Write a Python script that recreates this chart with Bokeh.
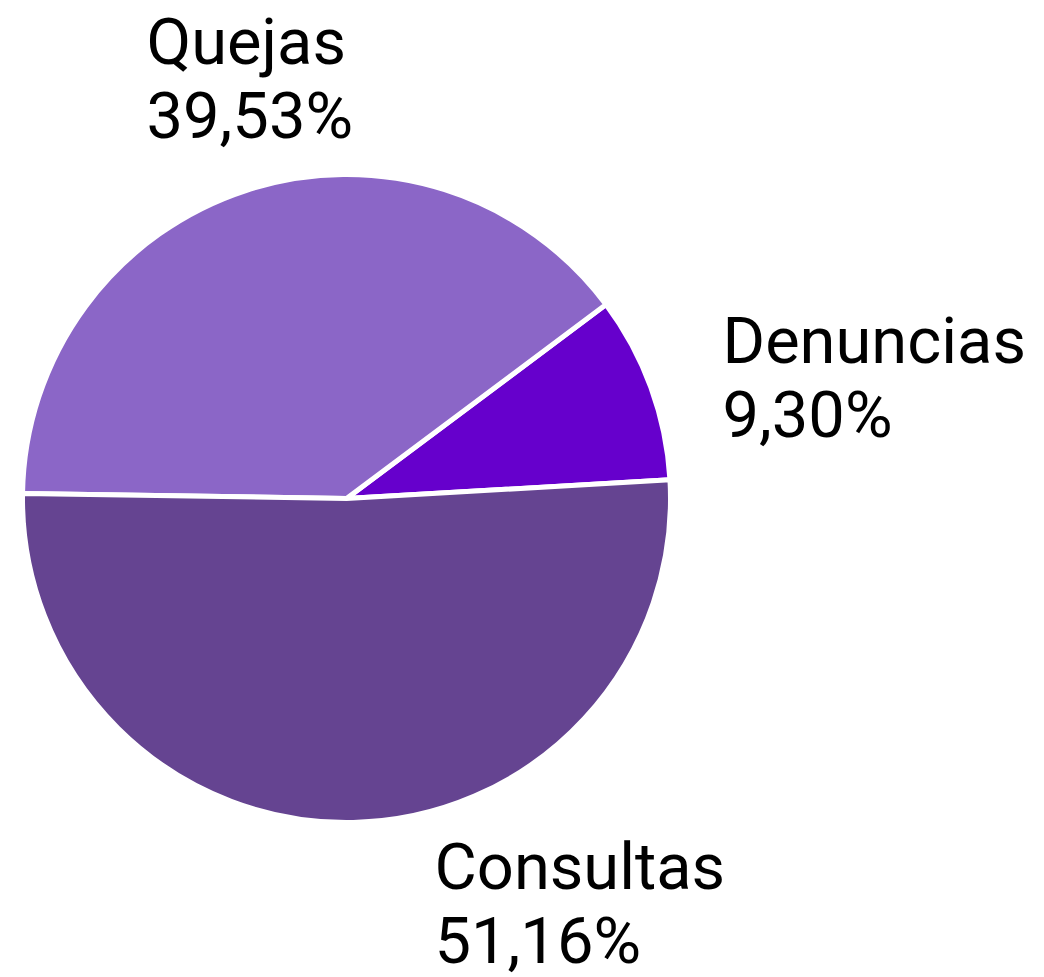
import math
from bokeh.plotting import figure
from bokeh.models import Range1d, ColumnDataSource
from bokeh.core.properties import value
from bokeh.embed import file_html
from bokeh.resources import INLINE

# ---- data ----
categories = ["Denuncias", "Quejas", "Consultas"]
percent_values = [9.30, 39.53, 51.16]
percent_labels = ["9,30%", "39,53%", "51,16%"]
colors = ["#6600CC", "#8B66C7", "#654491"]

# ---- layout ----
W, H = 1044, 977
CX, CY, R = 346, 977 - 498, 324
START_DEG = 3.3
FONT = "Roboto"
FS = "65px"
# label anchor (left, baseline of first line) per category
label_x = [722, 146, 434]
label_y = [977 - 340, 977 - 41, 977 - 866]
LINE_GAP = 74

total = sum(percent_values)
starts, ends = [], []
acc = math.radians(START_DEG)
for v in percent_values:
    span = v / total * 2 * math.pi
    starts.append(acc)
    ends.append(acc + span)
    acc += span

src = ColumnDataSource(dict(cat=categories, start=starts, end=ends, color=colors,
                            pct=percent_labels, lx=label_x, ly=label_y,
                            ly2=[y - LINE_GAP for y in label_y]))

p = figure(width=W, height=H, output_backend="svg", toolbar_location=None,
           x_range=Range1d(0, W), y_range=Range1d(0, H),
           min_border=0)
p.axis.visible = False
p.grid.visible = False
p.outline_line_color = None
p.background_fill_color = "white"
p.border_fill_color = "white"

p.wedge(x=CX, y=CY, radius=R, start_angle="start", end_angle="end",
        fill_color="color", line_color="white", line_width=5, source=src)

p.text(x="lx", y="ly", text="cat", source=src, text_font=value(FONT),
       text_font_size=FS, text_color="black", text_baseline="alphabetic",
       text_align="left")
p.text(x="lx", y="ly2", text="pct", source=src, text_font=value(FONT),
       text_font_size=FS, text_color="black", text_baseline="alphabetic",
       text_align="left")

open("out.html", "w").write(file_html(p, INLINE))
